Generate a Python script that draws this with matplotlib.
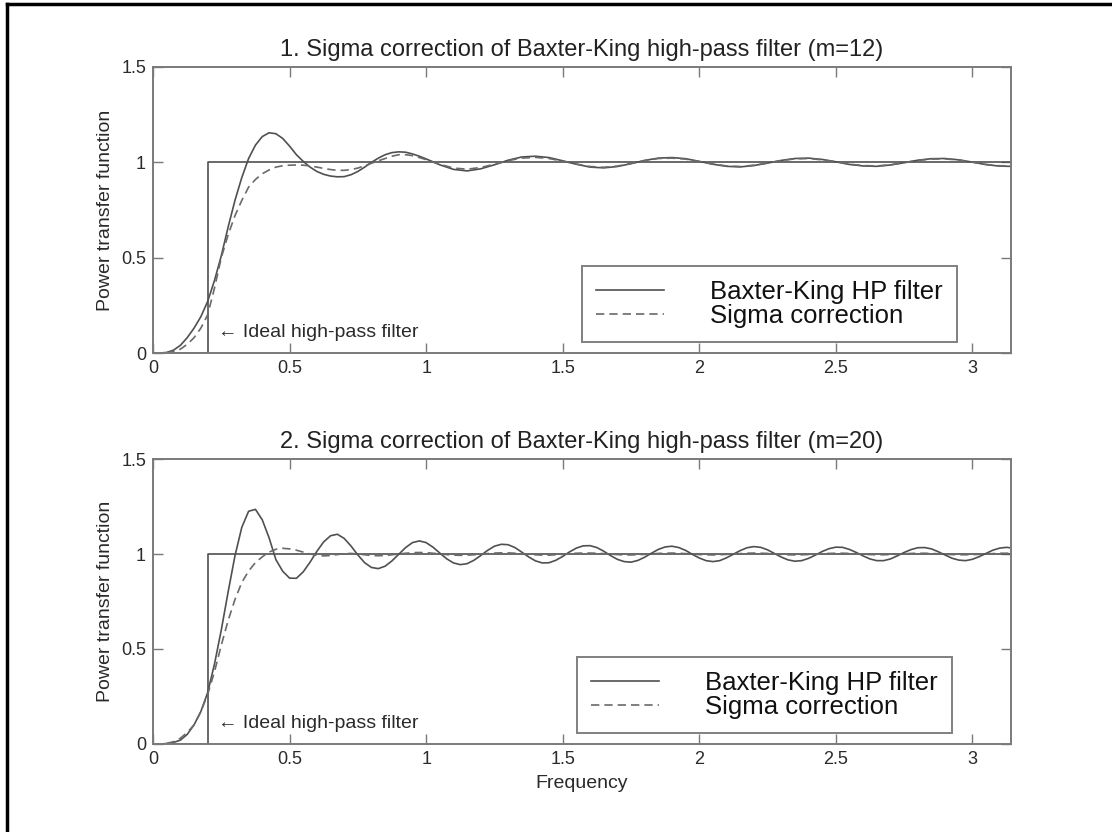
import numpy as np
import matplotlib
matplotlib.use("Agg")
import matplotlib.pyplot as plt
from matplotlib.lines import Line2D

plt.rcParams['font.family'] = ['Liberation Sans', 'DejaVu Sans']

# frequency grids (radians)
freq12 = np.concatenate([np.round(np.arange(40) * 0.025, 3),
                         np.round(1.0 + np.arange(43) * 0.05, 3), [np.pi]])
freq20 = np.append(np.round(np.arange(126) * 0.025, 3), np.pi)

# ideal high-pass filter
ideal_freq = [0.0, 0.2, 0.2, np.pi]
ideal_vals = [0.0, 0.0, 1.0, 1.0]

# m=12 : Baxter-King HP filter and sigma correction
bk12 = [0.0, 0.0, 0.003, 0.015, 0.04, 0.08, 0.13, 0.19, 0.27, 0.38,
        0.51, 0.66, 0.80, 0.92, 1.02, 1.09, 1.135, 1.155, 1.15, 1.125,
        1.085, 1.04, 1.005, 0.975, 0.952, 0.937, 0.928, 0.924, 0.925, 0.935,
        0.952, 0.975, 1.0, 1.022, 1.04, 1.051, 1.055, 1.053, 1.044, 1.032,
        1.018, 0.987, 0.963, 0.955, 0.966, 0.987, 1.011, 1.028, 1.032, 1.025,
        1.008, 0.990, 0.975, 0.971, 0.978, 0.993, 1.010, 1.022, 1.025, 1.019,
        1.005, 0.990, 0.979, 0.976, 0.983, 0.996, 1.010, 1.020, 1.022, 1.015,
        1.003, 0.989, 0.981, 0.979, 0.986, 0.998, 1.011, 1.019, 1.020, 1.013,
        1.001, 0.988, 0.980, 0.979]
sig12 = [0.0, 0.0, 0.001, 0.007, 0.02, 0.045, 0.08, 0.13, 0.20, 0.34,
         0.50, 0.62, 0.72, 0.80, 0.87, 0.91, 0.94, 0.96, 0.975, 0.982,
         0.985, 0.986, 0.985, 0.981, 0.975, 0.968, 0.962, 0.958, 0.958, 0.962,
         0.97, 0.982, 0.995, 1.008, 1.02, 1.032, 1.04, 1.04, 1.035, 1.025,
         1.014, 0.990, 0.970, 0.964, 0.973, 0.990, 1.009, 1.022, 1.026, 1.020,
         1.006, 0.991, 0.978, 0.974, 0.980, 0.994, 1.009, 1.020, 1.022, 1.017,
         1.004, 0.991, 0.981, 0.978, 0.985, 0.996, 1.009, 1.018, 1.020, 1.013,
         1.003, 0.990, 0.983, 0.981, 0.987, 0.998, 1.010, 1.017, 1.018, 1.012,
         1.001, 0.989, 0.982, 0.981]

# m=20
bk20 = [0.0, 0.0, 0.002, 0.008, 0.02, 0.05, 0.10, 0.17, 0.27, 0.42,
        0.60, 0.80, 0.99, 1.14, 1.225, 1.235, 1.18, 1.085, 0.97, 0.909,
        0.873, 0.872, 0.906, 0.957, 1.014, 1.064, 1.096, 1.104, 1.082, 1.042,
        0.995, 0.954, 0.929, 0.923, 0.936, 0.964, 0.999, 1.034, 1.060, 1.069,
        1.060, 1.036, 1.005, 0.975, 0.953, 0.944, 0.949, 0.967, 0.992, 1.019,
        1.041, 1.051, 1.049, 1.034, 1.010, 0.985, 0.964, 0.953, 0.954, 0.967,
        0.987, 1.011, 1.031, 1.043, 1.044, 1.034, 1.015, 0.992, 0.972, 0.960,
        0.957, 0.966, 0.983, 1.004, 1.024, 1.037, 1.041, 1.034, 1.019, 0.998,
        0.979, 0.965, 0.960, 0.965, 0.980, 0.999, 1.018, 1.033, 1.039, 1.035,
        1.022, 1.003, 0.984, 0.969, 0.962, 0.965, 0.977, 0.994, 1.013, 1.028,
        1.036, 1.035, 1.024, 1.008, 0.990, 0.974, 0.965, 0.965, 0.974, 0.990,
        1.008, 1.023, 1.033, 1.034, 1.027, 1.012, 0.995, 0.978, 0.968, 0.965,
        0.972, 0.986, 1.003, 1.020, 1.031, 1.035, 1.032]
sig20 = [0.0, 0.0, 0.003, 0.012, 0.03, 0.06, 0.10, 0.17, 0.26, 0.38,
         0.52, 0.65, 0.76, 0.85, 0.91, 0.955, 0.985, 1.01, 1.025, 1.03,
         1.027, 1.02, 1.01, 1.0, 0.993, 0.99, 0.992, 0.997, 1.002, 1.003,
         1.0, 0.996, 0.992, 0.991, 0.992, 0.996, 1.000, 1.004, 1.007, 1.008,
         1.007, 1.004, 1.001, 0.997, 0.994, 0.993, 0.994, 0.996, 0.999, 1.002,
         1.005, 1.006, 1.006, 1.004, 1.001, 0.998, 0.996, 0.994, 0.994, 0.996,
         0.998, 1.001, 1.004, 1.005, 1.005, 1.004, 1.002, 0.999, 0.997, 0.995,
         0.995, 0.996, 0.998, 1.000, 1.003, 1.004, 1.005, 1.004, 1.002, 1.000,
         0.997, 0.996, 0.995, 0.996, 0.998, 1.000, 1.002, 1.004, 1.005, 1.004,
         1.003, 1.000, 0.998, 0.996, 0.995, 0.996, 0.997, 0.999, 1.002, 1.003,
         1.004, 1.004, 1.003, 1.001, 0.999, 0.997, 0.996, 0.996, 0.997, 0.999,
         1.001, 1.003, 1.004, 1.004, 1.003, 1.001, 0.999, 0.997, 0.996, 0.996,
         0.997, 0.998, 1.000, 1.002, 1.004, 1.004, 1.004]

titles = ["1. Sigma correction of Baxter-King high-pass filter (m=12)",
          "2. Sigma correction of Baxter-King high-pass filter (m=20)"]
xticks = [0, 0.5, 1, 1.5, 2, 2.5, 3]
xticklabels = ["0", "0.5", "1", "1.5", "2", "2.5", "3"]
yticks = [0, 0.5, 1, 1.5]
yticklabels = ["0", "0.5", "1", "1.5"]

fig = plt.figure(figsize=(11.12, 8.32), dpi=100)
ax1 = fig.add_axes([0.1376, 0.5757, 0.7716, 0.3438])
ax2 = fig.add_axes([0.1376, 0.1058, 0.7716, 0.3425])

line_col = '#505050'
spine_col = '#7a7a7a'
text_col = '#2a2a2a'

panels = [(ax1, freq12, bk12, sig12, titles[0], 0.5),
          (ax2, freq20, bk20, sig20, titles[1], 0.494)]

for ax, fr, bk, sg, ttl, legx in panels:
    ax.plot(ideal_freq, ideal_vals, color=line_col, lw=1.2)
    ax.plot(fr, bk, color=line_col, lw=1.2, label="Baxter-King HP filter")
    ax.plot(fr, sg, color='#6a6a6a', lw=1.2, ls=(0, (5, 3)), label="Sigma correction")
    ax.set_xlim(0, np.pi)
    ax.set_ylim(0, 1.5)
    ax.set_xticks(xticks)
    ax.set_xticklabels(xticklabels)
    ax.set_yticks(yticks)
    ax.set_yticklabels(yticklabels)
    ax.tick_params(direction='in', top=True, right=True, length=7, width=1,
                   color=spine_col, labelcolor=text_col, labelsize=13, pad=5)
    for sp in ax.spines.values():
        sp.set_color(spine_col)
        sp.set_linewidth(1.4)
    ax.set_title(ttl, fontsize=17, color='#222222', pad=8)
    ax.set_ylabel("Power transfer function", fontsize=14, color=text_col, labelpad=5)
    ax.text(0.238, 0.11, "\u2190 Ideal high-pass filter", fontsize=14, color=text_col,
            va='center', ha='left')
    leg = ax.legend(loc='lower left', bbox_to_anchor=(legx, 0.038), borderaxespad=0,
                    fontsize=18.5, handlelength=2.65, handletextpad=1.8, labelspacing=0.0,
                    borderpad=0.55, fancybox=False, framealpha=1)
    leg.get_frame().set_edgecolor('#808080')
    leg.get_frame().set_linewidth(1.4)
    for t in leg.get_texts():
        t.set_color('#111111')

ax2.set_xlabel("Frequency", fontsize=14, color=text_col, labelpad=5)

# outer frame of the page (left and top edges visible)
fig.add_artist(Line2D([7 / 1112, 7 / 1112], [0, 1 - 4 / 832], transform=fig.transFigure,
                      color='black', lw=2.5))
fig.add_artist(Line2D([7 / 1112, 1], [1 - 4 / 832, 1 - 4 / 832], transform=fig.transFigure,
                      color='black', lw=2.5))

fig.savefig("out.png", dpi=100)
